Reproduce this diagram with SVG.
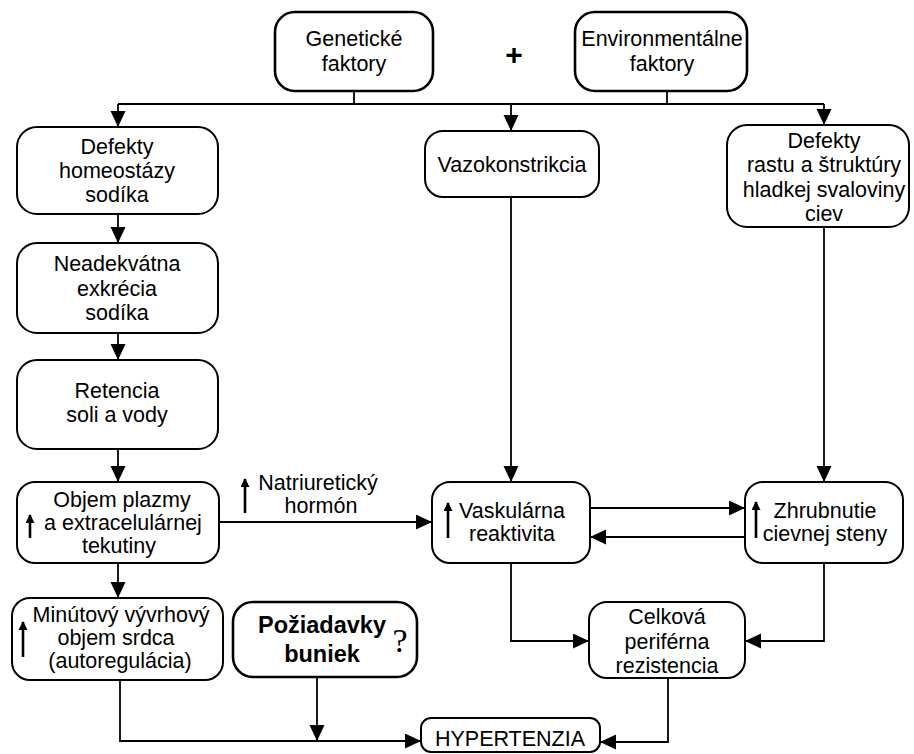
<svg xmlns="http://www.w3.org/2000/svg" width="914" height="754" viewBox="0 0 914 754">
<defs>
<marker id="ah" markerUnits="userSpaceOnUse" markerWidth="17" markerHeight="16" refX="16" refY="7.5" orient="auto">
<path d="M0,0 L16,7.5 L0,15 Z" fill="#000"/>
</marker>
<marker id="up" markerUnits="userSpaceOnUse" markerWidth="10" markerHeight="10" refX="8" refY="4.5" orient="auto">
<path d="M0,0 L9,4.5 L0,9 Z" fill="#000"/>
</marker>
<style>
.box{fill:#fff;stroke:#000;stroke-width:2}
.thick{stroke-width:2.6}
.c{fill:none;stroke:#000;stroke-width:1.8}
.a{marker-end:url(#ah)}
.u{fill:none;stroke:#000;stroke-width:2.6;marker-end:url(#up)}
text{font-family:"Liberation Sans",Arial,sans-serif;font-size:21.5px;fill:#000;text-anchor:middle}
.b{font-weight:bold;font-size:23.5px}
.q{font-family:"Liberation Serif","Times New Roman",serif;font-size:34px}
.plus{font-weight:bold;font-size:30px}
</style>
</defs>
<rect width="914" height="754" fill="#fff"/>

<g id="connectors">
<path class="c" d="M354,91 V104 M667,91 V104 M118,104 H824"/>
<path class="c a" d="M118,104 V127"/>
<path class="c a" d="M511,104 V131"/>
<path class="c a" d="M824,104 V125"/>
<path class="c a" d="M118,214 V243"/>
<path class="c a" d="M118,333 V360"/>
<path class="c a" d="M118,449 V482"/>
<path class="c a" d="M118,563 V598"/>
<path class="c a" d="M219,522 H432"/>
<path class="c a" d="M511,197 V482"/>
<path class="c a" d="M824,227 V482"/>
<path class="c a" d="M590,508 H745"/>
<path class="c a" d="M745,537 H590"/>
<path class="c a" d="M511,563 V641 H589"/>
<path class="c a" d="M824,563 V641 H745"/>
<path class="c a" d="M120,680 V741 H421"/>
<path class="c a" d="M317,677 V741"/>
<path class="c a" d="M668,678 V742 H600"/>
</g>

<g id="n-genetic">
<rect class="box thick" x="275" y="12" width="158" height="79" rx="20"/>
<text x="354" y="46">Genetické</text>
<text x="354" y="71">faktory</text>
</g>

<g id="plus"><text class="plus" x="514" y="65">+</text></g>

<g id="n-env">
<rect class="box thick" x="575" y="12" width="172" height="79" rx="20"/>
<text x="662" y="46">Environmentálne</text>
<text x="662" y="71">faktory</text>
</g>

<g id="n-defekty-sodik">
<rect class="box" x="17" y="127" width="201" height="87" rx="20"/>
<text x="117" y="154">Defekty</text>
<text x="117" y="178">homeostázy</text>
<text x="117" y="202">sodíka</text>
</g>

<g id="n-vazokonstrikcia">
<rect class="box" x="425" y="131" width="174" height="66" rx="18"/>
<text x="512" y="172">Vazokonstrikcia</text>
</g>

<g id="n-defekty-rastu">
<rect class="box" x="727" y="125" width="182" height="102" rx="20"/>
<text x="824" y="148">Defekty</text>
<text x="824" y="172">rastu a štruktúry</text>
<text x="824" y="197">hladkej svaloviny</text>
<text x="824" y="221">ciev</text>
</g>

<g id="n-neadekvatna">
<rect class="box" x="17" y="243" width="201" height="90" rx="20"/>
<text x="117" y="271">Neadekvátna</text>
<text x="117" y="296">exkrécia</text>
<text x="117" y="320">sodíka</text>
</g>

<g id="n-retencia">
<rect class="box" x="17" y="360" width="201" height="89" rx="20"/>
<text x="117" y="398">Retencia</text>
<text x="117" y="422">soli a vody</text>
</g>

<g id="n-objem">
<rect class="box" x="17" y="482" width="202" height="81" rx="18"/>
<text x="122" y="507">Objem plazmy</text>
<text x="123" y="530">a extracelulárnej</text>
<text x="119" y="553">tekutiny</text>
<path class="u" d="M30,538 V515"/>
</g>

<g id="n-natriureticky">
<text x="318" y="490">Natriuretický</text>
<text x="321" y="513">hormón</text>
<path class="u" d="M245,513 V479"/>
</g>

<g id="n-vaskularna">
<rect class="box" x="432" y="482" width="158" height="81" rx="18"/>
<text x="512" y="518">Vaskulárna</text>
<text x="512" y="541">reaktivita</text>
<path class="u" d="M448,538 V503"/>
</g>

<g id="n-zhrubnutie">
<rect class="box" x="745" y="482" width="158" height="81" rx="18"/>
<text x="825" y="518">Zhrubnutie</text>
<text x="825" y="541">cievnej steny</text>
<path class="u" d="M756,538 V502"/>
</g>

<g id="n-minutovy">
<rect class="box" x="12" y="598" width="211" height="82" rx="18"/>
<text x="121" y="622">Minútový vývrhový</text>
<text x="116" y="645">objem srdca</text>
<text x="120" y="668">(autoregulácia)</text>
<path class="u" d="M23,657 V622"/>
</g>

<g id="n-poziadavky">
<rect class="box thick" x="233" y="602" width="184" height="75" rx="20"/>
<text class="b" x="322" y="633">Požiadavky</text>
<text class="b" x="322" y="662">buniek</text>
<text class="q" x="400" y="652">?</text>
</g>

<g id="n-celkova">
<rect class="box" x="589" y="602" width="156" height="76" rx="18"/>
<text x="667" y="624">Celková</text>
<text x="667" y="649">periférna</text>
<text x="667" y="673">rezistencia</text>
</g>

<g id="n-hypertenzia">
<rect class="box" x="421" y="718" width="179" height="34" rx="10"/>
<text x="510" y="746">HYPERTENZIA</text>
</g>
</svg>
